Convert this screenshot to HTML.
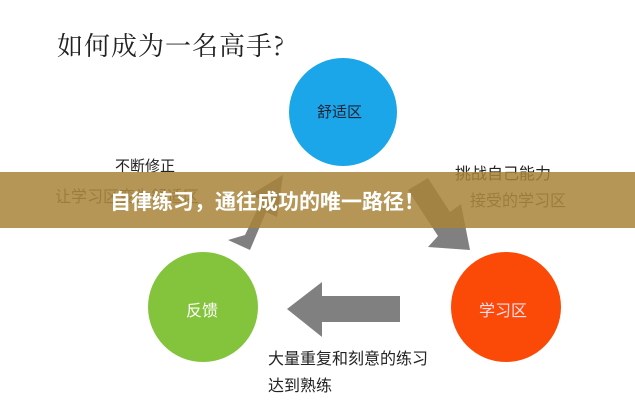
<!DOCTYPE html>
<html><head><meta charset="utf-8"><style>
body{margin:0;width:635px;height:400px;background:#fff;position:relative;overflow:hidden;font-family:"Liberation Sans","Noto Sans CJK SC",sans-serif}
.t{position:absolute;white-space:nowrap;color:#222}
</style></head><body>
<svg width="635" height="400" style="position:absolute;left:0;top:0">
<circle cx="343" cy="112" r="54" fill="#1aa6e8"/>
<circle cx="203" cy="307" r="55" fill="#84c43c"/>
<circle cx="506" cy="307" r="55" fill="#fb4a08"/>
<polygon points="400,296 322,296 322,282 287,309 322,337 322,322 400,322" fill="#808080"/>
<polygon points="228,240 250,250 266,212 277,217 283,175 250,195 262,200 245,235" fill="#808080"/>
<polygon points="408,190 428,178 450,212 461,204 470,250 428,247 438,236" fill="#808080"/>
</svg>
<div class="t" style="left:57px;top:26px;font-size:26px;letter-spacing:1px;font-family:'Noto Serif CJK SC',serif">如何成为一名高手?</div>
<div class="t" style="left:317px;top:101px;font-size:15px;color:#223">舒适区</div>
<div class="t" style="left:186px;top:297px;font-size:16px;color:#fff">反馈</div>
<div class="t" style="left:479px;top:297px;font-size:16px;color:#fde">学习区</div>
<div class="t" style="left:115px;top:155px;font-size:15px">不断修正</div>
<div class="t" style="left:55px;top:183px;font-size:16px;color:#555">让学习区变为舒适区</div>
<div class="t" style="left:455px;top:160px;font-size:16px">挑战自己能力</div>
<div class="t" style="left:470px;top:187px;font-size:16px;color:#555">接受的学习区</div>
<div class="t" style="left:268px;top:345px;font-size:16px">大量重复和刻意的练习</div>
<div class="t" style="left:268px;top:372px;font-size:16px">达到熟练</div>
<div style="position:absolute;left:0;top:172px;width:635px;height:56px;background:rgba(168,132,58,0.85)"></div>
<div class="t" style="left:110px;top:186px;font-size:21px;font-weight:bold;color:#fff">自律练习，通往成功的唯一路径！</div>
</body></html>
